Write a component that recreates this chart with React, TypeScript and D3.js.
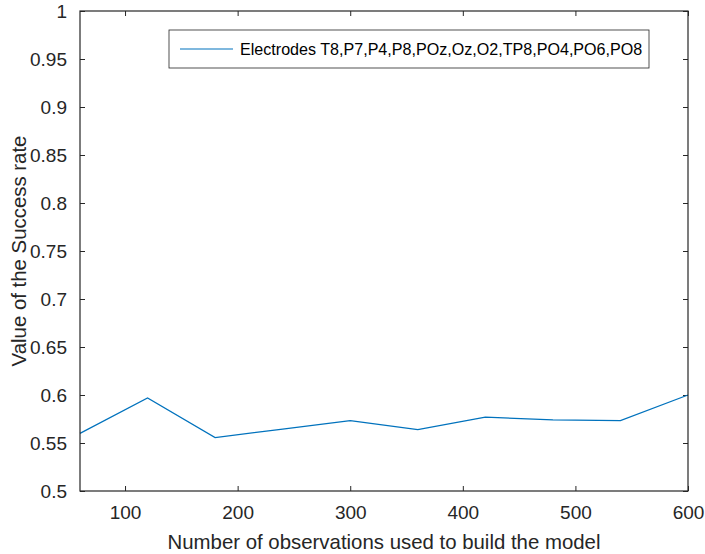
import React, { useEffect, useRef } from 'react';
import * as d3 from 'd3';

const observations = [60, 120, 180, 240, 300, 360, 420, 480, 540, 600];
const successRate = [0.560, 0.597, 0.5556, 0.5645, 0.5732, 0.5639, 0.577, 0.574, 0.5733, 0.600];
const xTicks = [100, 200, 300, 400, 500, 600];
const yTicks = [0.5, 0.55, 0.6, 0.65, 0.7, 0.75, 0.8, 0.85, 0.9, 0.95, 1];
const legendLabel = 'Electrodes T8,P7,P4,P8,POz,Oz,O2,TP8,PO4,PO6,PO8';

const width = 705;
const height = 554;
const font = '"Liberation Sans", Arial, Helvetica, sans-serif';
const axisColor = '#262626';
const lineColor = '#0072BD';

const App: React.FC = () => {
  const svgRef = useRef<SVGSVGElement>(null);

  useEffect(() => {
    if (!svgRef.current) return;
    const svg = d3.select(svgRef.current);
    svg.selectAll('*').remove();

    const margin = { top: 11, right: 17, bottom: 63, left: 80 };
    const innerWidth = width - margin.left - margin.right;
    const innerHeight = height - margin.top - margin.bottom;

    const g = svg.append('g').attr('transform', `translate(${margin.left},${margin.top})`);

    const x = d3.scaleLinear().domain([60, 600]).range([0, innerWidth]);
    const y = d3.scaleLinear().domain([0.5, 1]).range([innerHeight, 0]);

    g.append('rect')
      .attr('width', innerWidth)
      .attr('height', innerHeight)
      .attr('fill', '#fff');

    // ticks pointing inward, mirrored on top/right
    const tickLen = 5;
    const styleAxis = (sel: d3.Selection<SVGGElement, unknown, null, undefined>) => {
      sel.select('.domain').remove();
      sel.selectAll('.tick line').attr('stroke', axisColor).attr('stroke-width', 1);
      sel.selectAll('.tick text')
        .attr('fill', axisColor)
        .style('font-family', font)
        .style('font-size', '19px');
    };

    g.append('g')
      .attr('transform', `translate(0,${innerHeight})`)
      .call(d3.axisBottom(x).tickValues(xTicks).tickSize(-tickLen).tickPadding(15).tickFormat(d3.format('d')))
      .call(styleAxis);

    g.append('g')
      .call(d3.axisTop(x).tickValues(xTicks).tickSize(-tickLen).tickFormat(() => ''))
      .call(styleAxis);

    g.append('g')
      .call(d3.axisLeft(y).tickValues(yTicks).tickSize(-tickLen).tickPadding(13).tickFormat(d => `${+d}`))
      .call(styleAxis);

    g.append('g')
      .attr('transform', `translate(${innerWidth},0)`)
      .call(d3.axisRight(y).tickValues(yTicks).tickSize(-tickLen).tickFormat(() => ''))
      .call(styleAxis);

    // data line
    const line = d3.line<number>()
      .x((_, i) => x(observations[i]))
      .y(d => y(d));

    g.append('path')
      .datum(successRate)
      .attr('fill', 'none')
      .attr('stroke', lineColor)
      .attr('stroke-width', 1.2)
      .attr('d', line);

    // axes box
    g.append('rect')
      .attr('width', innerWidth)
      .attr('height', innerHeight)
      .attr('fill', 'none')
      .attr('stroke', axisColor)
      .attr('stroke-width', 1.2);

    // legend
    const legend = g.append('g').attr('transform', `translate(${169 - margin.left},${30 - margin.top})`);
    legend.append('rect')
      .attr('width', 480)
      .attr('height', 38)
      .attr('fill', '#fff')
      .attr('stroke', axisColor)
      .attr('stroke-width', 0.8);
    legend.append('line')
      .attr('x1', 11)
      .attr('x2', 64)
      .attr('y1', 19)
      .attr('y2', 19)
      .attr('stroke', lineColor)
      .attr('stroke-width', 1.2);
    legend.append('text')
      .attr('x', 71)
      .attr('y', 19)
      .attr('dy', '0.35em')
      .attr('fill', '#000')
      .style('font-family', font)
      .style('font-size', '16.1px')
      .text(legendLabel);

    // axis labels
    svg.append('text')
      .attr('x', margin.left + innerWidth / 2)
      .attr('y', 549)
      .attr('text-anchor', 'middle')
      .attr('fill', axisColor)
      .style('font-family', font)
      .style('font-size', '20.4px')
      .text('Number of observations used to build the model');

    svg.append('text')
      .attr('transform', `translate(26,${margin.top + innerHeight / 2}) rotate(-90)`)
      .attr('text-anchor', 'middle')
      .attr('fill', axisColor)
      .style('font-family', font)
      .style('font-size', '20.4px')
      .text('Value of the Success rate');
  }, []);

  return (
    <svg
      ref={svgRef}
      width={width}
      height={height}
      style={{ display: 'block', position: 'absolute', left: 0, top: 0, background: '#fff' }}
    />
  );
};

export default App;
